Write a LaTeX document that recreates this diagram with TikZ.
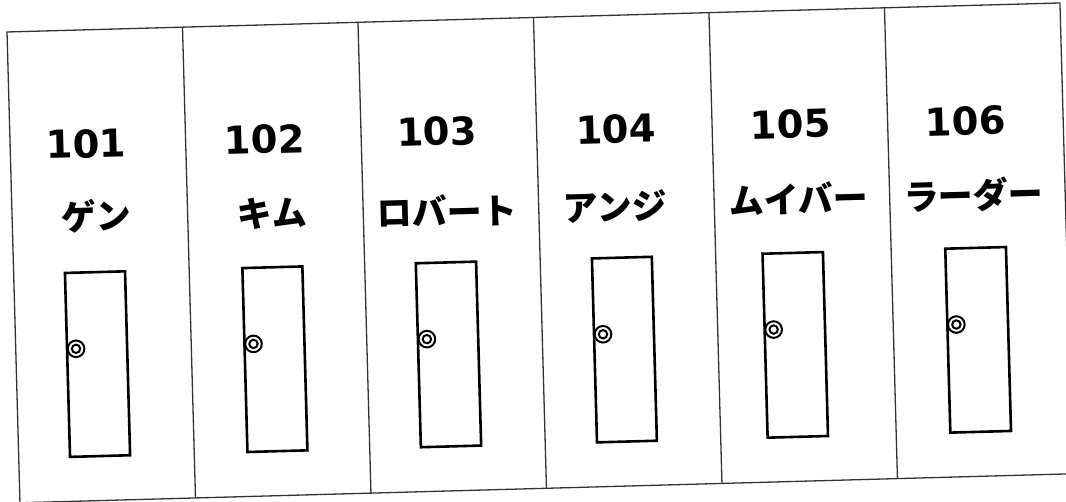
\documentclass[tikz,border=0pt]{standalone}
\usepackage{fontspec}
\newfontfamily\numfont{DejaVu Sans}
\newfontfamily\jp{Noto Sans CJK JP}
\begin{document}
\begin{tikzpicture}[x=1pt,y=-1pt,
  frameline/.style={draw=black!80, line width=1.3pt},
  doorbox/.style={draw=black, line width=2.6pt},
  knobring/.style={draw=black, line width=2pt},
  numlabel/.style={font=\numfont\bfseries\fontsize{38.5}{40}\selectfont, inner sep=0pt, transform shape},
  namelabel/.style={font=\jp\bfseries\fontsize{35}{37}\selectfont, inner sep=0pt, transform shape}]
\fill[white] (0,0) rectangle (1066,502);
\useasboundingbox (0,0) rectangle (1066,502);
\begin{scope}[shift={(7,32)}, rotate=1.58]
  % outer frame and dividers
  \draw[frameline] (0,0) rectangle (1053.4,471);
  \foreach \i in {1,...,5} \draw[frameline] (\i*175.57,0) -- (\i*175.57,471);
  % doors and knobs
  \foreach \l/\r in {51.3/111.4, 228.8/288.8, 402.3/462.6, 578.5/638.4, 749.2/809.6, 932/992.7}{
    \draw[doorbox] (\l,242.5) rectangle (\r,426.5);
    \draw[knobring] (\l+9,318.6) circle[radius=8.3];
    \draw[knobring] (\l+9,318.6) circle[radius=4.2];
  }
  % labels
  \node[numlabel] (n101) at (76,114) {101};
  \node[numlabel] (n102) at (254.5,114.6) {102};
  \node[numlabel] (n103) at (427,111.4) {103};
  \node[numlabel] (n104) at (606,113.8) {104};
  \node[numlabel] (n105) at (780.5,113.8) {105};
  \node[numlabel] (n106) at (956,115.3) {106};
  \node[namelabel] (m101) at (84,186) {ゲン};
  \node[namelabel] (m102) at (260,189) {キム};
  \node[namelabel] (m103) at (434.6,191) {ロバート};
  \node[namelabel] (m104) at (603,191) {アンジ};
  \node[namelabel] (m105) at (786.7,188) {ムイバー};
  \node[namelabel] (m106) at (961.8,189.6) {ラーダー};
\end{scope}
\end{tikzpicture}
\end{document}
